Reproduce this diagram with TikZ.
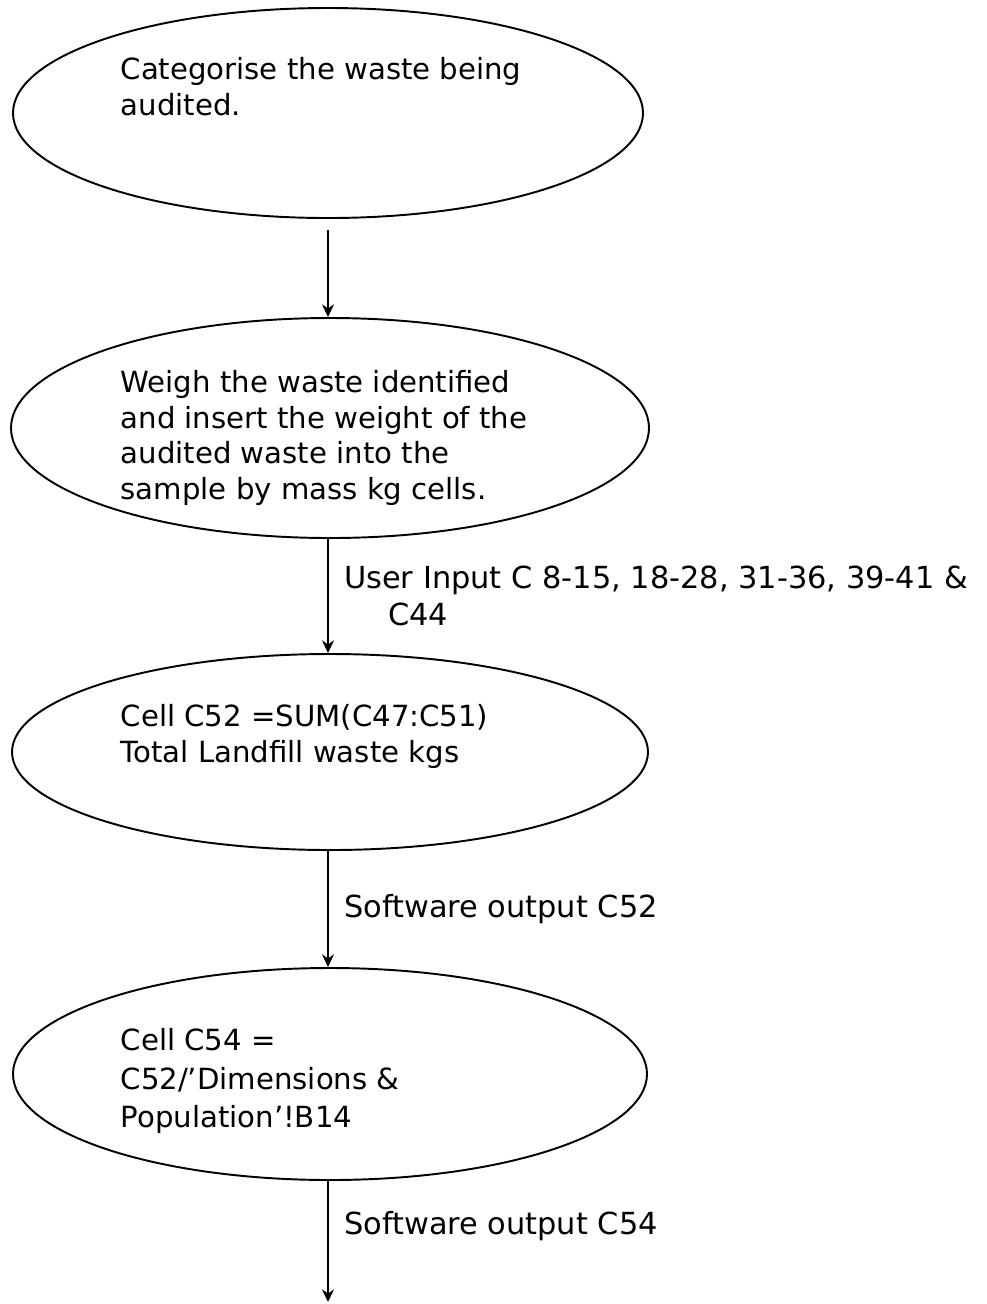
\documentclass[tikz,border=0pt]{standalone}
\usepackage{fontspec}
\setmainfont{DejaVu Sans}
\usetikzlibrary{shapes.geometric,arrows.meta}

\tikzset{
  stage/.style={draw, ellipse, inner sep=0pt, line width=0.55pt},
  steptext/.style={anchor=north west, inner sep=0pt, align=left},
  flowlabel/.style={right, xshift=1pt, font=\fontsize{8.65}{10.5}\selectfont},
  flow/.style={-{Stealth[length=3.6pt,width=3.4pt]}, line width=0.55pt},
}

\begin{document}
\begin{tikzpicture}[font=\fontsize{8.3}{10.1}\selectfont]
\useasboundingbox (0,0) rectangle (9.86,-13.04);
\node[stage, minimum width=6.30cm, minimum height=2.10cm] (e1) at (3.28,-1.13) {};
\node[stage, minimum width=6.38cm, minimum height=2.20cm] (e2) at (3.30,-4.28) {};
\node[stage, minimum width=6.36cm, minimum height=1.96cm] (e3) at (3.30,-7.52) {};
\node[stage, minimum width=6.34cm, minimum height=2.12cm] (e4) at (3.30,-10.74) {};
\node[steptext] (t1) at (1.20,-0.57) {Categorise the waste being\\audited.};
\node[steptext] (t2) at (1.20,-3.70) {Weigh the waste identified\\and insert the weight of the\\audited waste into the\\sample by mass kg cells.};
\node[steptext] (t3) at (1.20,-7.04) {Cell C52 =SUM(C47:C51)\\Total Landfill waste kgs};
\node[steptext, font=\fontsize{8.3}{10.9}\selectfont] (t4) at (1.20,-10.28) {Cell C54 =\\C52/’Dimensions \&\\Population’!B14};
\coordinate (end) at (3.28,-13.02);
\draw[flow, shorten <=3pt] (e1.south -| 3.28,0) -- (e2.north -| 3.28,0);
\draw[flow] (e2.south -| 3.28,0) -- (e3.north -| 3.28,0)
  node[midway, flowlabel, align=left] {User Input C 8-15, 18-28, 31-36, 39-41 \&\\\hspace*{1.45em}C44};
\draw[flow] (e3.south -| 3.28,0) -- (e4.north -| 3.28,0)
  node[midway, flowlabel] {Software output C52};
\draw[flow] (e4.south -| 3.28,0) -- (end)
  node[pos=0.37, flowlabel] {Software output C54};
\end{tikzpicture}
\end{document}
